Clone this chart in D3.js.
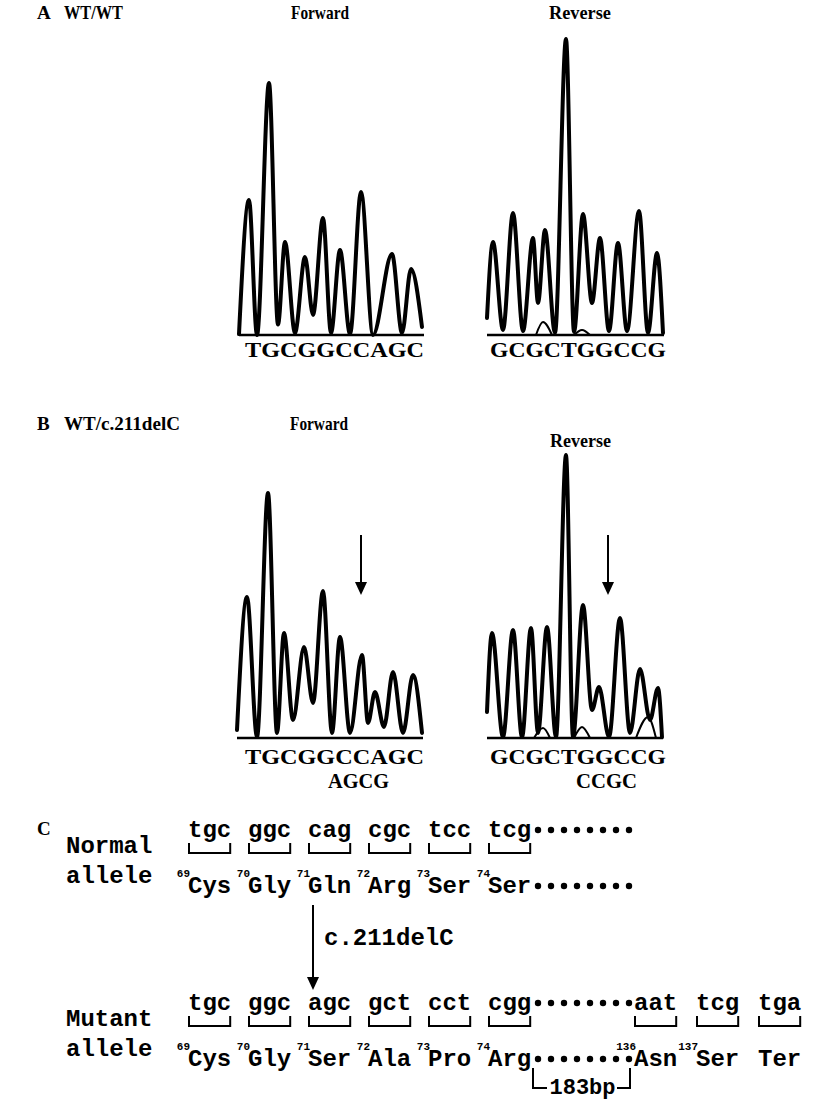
<!DOCTYPE html>
<html>
<head>
<meta charset="utf-8">
<script src="https://cdn.jsdelivr.net/npm/d3@7"></script>
<style>
  html, body { margin: 0; padding: 0; background: #fff; }
  svg { display: block; }
</style>
</head>
<body>
<div id="chart"></div>
<script>
// ---------------- DATA ----------------
// Chromatogram traces: [scan position, signal] at local extrema
const traceFwdWT = [[3,3],[13,450],[21,0],[33,840],[42,35],[49,310],[59,7],[69,260],[77,67],[87,390],[95,7],[104,283],[114,3],[125,477],[137,0],[156,270],[166,7],[175,220],[186,27]];
const traceRevWT = [[1,57],[7,310],[17,17],[27,407],[37,13],[47,323],[52,107],[59,350],[69,7],[80,987],[88,10],[97,403],[106,107],[114,323],[123,13],[132,307],[141,13],[153,413],[162,7],[171,273],[177,7]];
const minorRevWT = [[50,0],[57,43],[66,0],[88,0],[96,17],[104,0]];
const traceFwdHet = [[2,27],[12,470],[22,3],[33,817],[42,17],[49,350],[58,60],[69,303],[78,117],[88,490],[97,17],[105,337],[115,17],[127,277],[133,50],[140,153],[149,37],[158,220],[168,17],[178,210],[187,17]];
const traceRevHet = [[1,87],[6,350],[17,3],[27,360],[36,3],[45,367],[52,17],[61,370],[70,3],[80,943],[87,3],[97,443],[106,93],[113,170],[123,3],[134,400],[144,17],[154,230],[164,60],[172,167],[176,3]];
const minorRevHet = [[48,0],[57,33],[64,0],[88,0],[96,37],[104,0],[150,0],[162,70],[170,0]];

// Base calls
const seqFwdWT = "TGCGGCCAGC";
const seqRevWT = "GCGCTGGCCG";
const seqFwdHet = ["TGCGGCCAGC", "AGCG"];
const seqRevHet = ["GCGCTGGCCG", "CCGC"];

// Headers
const panelLabels = ["A", "B", "C"];
const genotypes = ["WT/WT", "WT/c.211delC"];
const directions = ["Forward", "Reverse"];

// Panel C
const codonsNormal = ["tgc", "ggc", "cag", "cgc", "tcc", "tcg"];
const aminoNormal = ["Cys", "Gly", "Gln", "Arg", "Ser", "Ser"];
const numNormal = ["69", "70", "71", "72", "73", "74"];
const codonsMutant = ["tgc", "ggc", "agc", "gct", "cct", "cgg", "aat", "tcg", "tga"];
const aminoMutant = ["Cys", "Gly", "Ser", "Ala", "Pro", "Arg", "Asn", "Ser", "Ter"];
const numMutant = ["69", "70", "71", "72", "73", "74", "136", "137", ""];
const dotCount = 8;
const mutationLabel = "c.211delC";
const gapLabel = "183bp";
const rowLabels = [["Normal", "allele"], ["Mutant", "allele"]];

// ---------------- LAYOUT ----------------
const W = 813, H = 1101;
const svg = d3.select("#chart").append("svg").attr("width", W).attr("height", H);
svg.append("rect").attr("width", W).attr("height", H).attr("fill", "#fff");

const serif = "'Liberation Serif', 'Times New Roman', serif";
const mono = "'Liberation Mono', 'Courier New', monospace";

function txt(x, y, s, size, fam, anchor, len) {
  const t = svg.append("text").attr("x", x).attr("y", y).text(s)
    .attr("font-family", fam).attr("font-weight", "bold").attr("font-size", size)
    .attr("text-anchor", anchor || "start").attr("fill", "#000");
  if (len) t.attr("textLength", len).attr("lengthAdjust", "spacingAndGlyphs");
  return t;
}
// headers
txt(37, 19, panelLabels[0], 19, serif);
txt(64, 19, genotypes[0], 19, serif, "start", 59);
txt(291, 19, directions[0], 19, serif, "start", 58);
txt(549, 19, directions[1], 19, serif, "start", 62);
txt(37, 430, panelLabels[1], 19, serif);
txt(64, 430, genotypes[1], 19, serif, "start", 116);
txt(290, 430, directions[0], 19, serif, "start", 58);
txt(550, 447, directions[1], 19, serif, "start", 61);

// chromatogram panels
const ySig = [0, 1000];
function chromatogram(opts) {
  const x = d3.scaleLinear().domain([0, 190]).range([opts.left, opts.left + 190]);
  const y = d3.scaleLinear().domain(ySig).range([opts.base, opts.base - 300]);
  const g = svg.append("g");
  const line = d3.line().x(d => x(d[0])).y(d => y(d[1])).curve(d3.curveMonotoneX);
  g.append("line").attr("x1", x(opts.baseFrom)).attr("x2", x(opts.baseTo))
    .attr("y1", y(0)).attr("y2", y(0)).attr("stroke", "#000").attr("stroke-width", 2.5);
  if (opts.minor) {
    for (let i = 0; i < opts.minor.length; i += 3) {
      g.append("path").datum(opts.minor.slice(i, i + 3)).attr("d", line)
        .attr("fill", "none").attr("stroke", "#000").attr("stroke-width", 2);
    }
  }
  g.append("path").datum(opts.data).attr("d", line)
    .attr("fill", "none").attr("stroke", "#000").attr("stroke-width", 4)
    .attr("stroke-linejoin", "round").attr("stroke-linecap", "round");
  opts.seq.forEach((s, i) => {
    txt(opts.seqX[i], opts.seqY[i], s, 21.5, serif, "start", opts.seqW[i]);
  });
  if (opts.arrow) {
    const ax = x(opts.arrow[0]);
    g.append("line").attr("x1", ax).attr("x2", ax).attr("y1", opts.arrow[1]).attr("y2", opts.arrow[2] - 10)
      .attr("stroke", "#000").attr("stroke-width", 2);
    g.append("path").attr("d", `M${ax - 6},${opts.arrow[2] - 13} L${ax + 6},${opts.arrow[2] - 13} L${ax},${opts.arrow[2]} Z`)
      .attr("fill", "#000");
  }
}

chromatogram({ data: traceFwdWT, left: 236, base: 335, baseFrom: 3, baseTo: 188, seq: [seqFwdWT], seqX: [245], seqY: [357], seqW: [179] });
chromatogram({ data: traceRevWT, minor: minorRevWT, left: 486, base: 335, baseFrom: 1, baseTo: 178, seq: [seqRevWT], seqX: [490], seqY: [357], seqW: [176] });
chromatogram({ data: traceFwdHet, left: 235, base: 738, baseFrom: 2, baseTo: 188, seq: seqFwdHet, seqX: [245, 328], seqY: [764, 788], seqW: [179, 61], arrow: [126, 535, 595] });
chromatogram({ data: traceRevHet, minor: minorRevHet, left: 486, base: 738, baseFrom: 1, baseTo: 177, seq: seqRevHet, seqX: [490, 576], seqY: [764, 788], seqW: [176, 61], arrow: [122, 535, 595] });

// ---------------- PANEL C ----------------
txt(37, 835, panelLabels[2], 19, serif);
const fs = 24, cw = fs * 0.6;
const col = d3.scaleLinear().domain([0, 1]).range([188, 248]);
const tailX = d3.scaleLinear().domain([0, 1]).range([634, 696]);

function alleleRow(codons, aminos, nums, top, tail) {
  const codonBase = top, labelBase = top + 16, aaBase = top + 56, supBase = top + 40;
  txt(66, labelBase, rowLabels[tail ? 1 : 0][0], fs, mono);
  txt(66, labelBase + 30, rowLabels[tail ? 1 : 0][1], fs, mono);
  const xs = codons.map((c, i) => i < 6 ? col(i) : tailX(i - 6));
  codons.forEach((c, i) => {
    const x0 = xs[i];
    txt(x0, codonBase, c, fs, mono);
    const x1 = x0 + 3 * cw - 1;
    svg.append("path")
      .attr("d", `M${x0 + 1},${codonBase + 6} V${codonBase + 16} H${x1} V${codonBase + 6}`)
      .attr("fill", "none").attr("stroke", "#000").attr("stroke-width", 2);
    txt(x0, aaBase, aminos[i], fs, mono);
    if (nums[i]) txt(x0 + 2, supBase, nums[i], 11, mono, "end");
  });
  const dx = d3.scaleLinear().domain([0, dotCount - 1]).range([538, 629]);
  [codonBase - 7, aaBase - 7].forEach(yy => {
    d3.range(dotCount).forEach(k => {
      svg.append("circle").attr("cx", dx(k)).attr("cy", yy).attr("r", 3.2).attr("fill", "#000");
    });
  });
  return { aaBase, dx };
}
alleleRow(codonsNormal, aminoNormal, numNormal, 837, false);
const mut = alleleRow(codonsMutant, aminoMutant, numMutant, 1010, true);

// mutation arrow
svg.append("line").attr("x1", 313).attr("x2", 313).attr("y1", 905).attr("y2", 980)
  .attr("stroke", "#000").attr("stroke-width", 2);
svg.append("path").attr("d", "M307,977 L319,977 L313,990 Z").attr("fill", "#000");
txt(324, 945, mutationLabel, fs, mono);

// 183bp bracket
const bx0 = mut.dx(0) - 5, bx1 = mut.dx(dotCount - 1) + 1, by0 = mut.aaBase + 2, by1 = mut.aaBase + 22;
svg.append("path").attr("d", `M${bx0},${by0} V${by1} H${bx0 + 14}`).attr("fill", "none").attr("stroke", "#000").attr("stroke-width", 2);
svg.append("path").attr("d", `M${bx1 - 13},${by1} H${bx1} V${by0}`).attr("fill", "none").attr("stroke", "#000").attr("stroke-width", 2);
txt((bx0 + bx1) / 2 + 1, by1 + 6, gapLabel, 22, mono, "middle");
</script>
</body>
</html>
